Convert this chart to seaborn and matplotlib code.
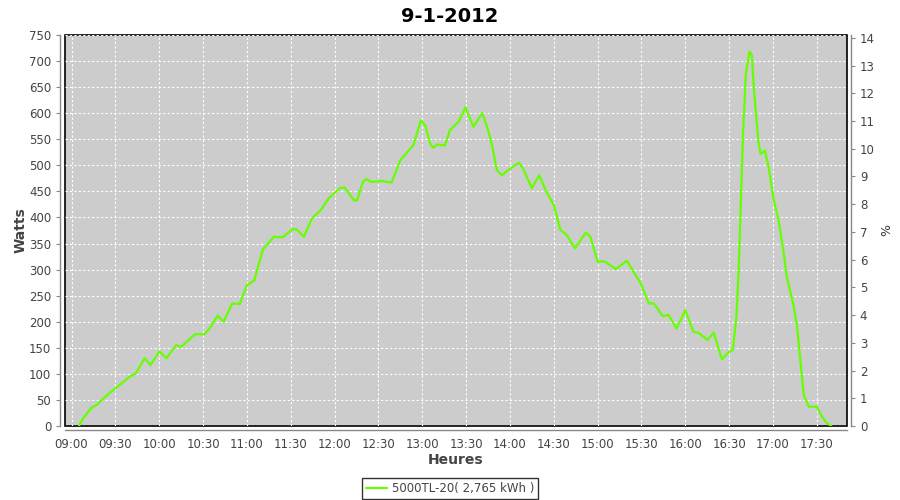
import pandas as pd
import matplotlib
matplotlib.use("Agg")
import matplotlib.pyplot as plt
import matplotlib.dates as mdates
import seaborn as sns

# Production of one day
TIMES = ["09:05:00", "09:08:00", "09:14:00", "09:17:00", "09:25:00", "09:33:00", "09:40:00",
         "09:44:00", "09:50:00", "09:54:00", "10:00:00", "10:05:00", "10:11:30", "10:15:00",
         "10:24:30", "10:31:00", "10:35:00", "10:40:00", "10:44:00", "10:50:00", "10:55:00",
         "11:00:00", "11:05:00", "11:08:00", "11:11:00", "11:18:30", "11:24:30", "11:31:30",
         "11:34:00", "11:39:00", "11:44:30", "11:50:30", "11:56:00", "12:04:00", "12:07:00",
         "12:13:30", "12:15:30", "12:19:30", "12:22:00", "12:25:00", "12:32:00", "12:39:00",
         "12:45:00", "12:54:00", "12:59:00", "13:02:00", "13:05:30", "13:07:30", "13:10:30",
         "13:15:30", "13:19:00", "13:25:00", "13:29:30", "13:35:00", "13:41:00", "13:44:00",
         "13:47:30", "13:51:00", "13:54:30", "13:59:00", "14:06:00", "14:09:00", "14:15:00",
         "14:20:00", "14:25:00", "14:30:00", "14:34:30", "14:39:00", "14:44:30", "14:52:00",
         "14:55:00", "14:57:30", "15:00:00", "15:04:30", "15:12:30", "15:20:00", "15:24:30",
         "15:29:30", "15:35:00", "15:38:30", "15:44:30", "15:48:30", "15:54:00", "16:00:00",
         "16:05:30", "16:09:30", "16:15:00", "16:19:30", "16:25:00", "16:29:30", "16:32:30",
         "16:35:00", "16:36:30", "16:37:00", "16:39:30", "16:41:30", "16:44:00", "16:45:30",
         "16:47:00", "16:50:00", "16:51:30", "16:54:30", "16:57:00", "17:00:30", "17:04:00",
         "17:07:00", "17:09:30", "17:14:00", "17:16:30", "17:18:30", "17:21:00", "17:24:30",
         "17:30:00", "17:33:30", "17:37:00", "17:40:00"]
WATTS = [0, 15, 36, 40, 61, 79, 95,
         101, 130, 117, 143, 130, 155, 152,
         176, 176, 189, 212, 200, 235, 234,
         270, 279, 309, 339, 363, 362, 378,
         377, 363, 398, 414, 437, 457, 457,
         432, 434, 469, 474, 468, 470, 467,
         510, 539, 586, 577, 541, 534, 540,
         538, 568, 584, 611, 574, 600, 577,
         542, 491, 481, 491, 505, 494, 456,
         481, 449, 424, 376, 366, 341, 371,
         363, 339, 315, 316, 301, 317, 296,
         274, 235, 235, 211, 213, 187, 222,
         181, 178, 165, 179, 128, 141, 146,
         210, 299, 339, 562, 677, 718, 712,
         645, 545, 522, 528, 497, 434, 392,
         338, 286, 232, 190, 133, 60, 37,
         37, 18, 5, 0]

DAY = "2012-01-09"
SERIES_LABEL = "5000TL-20( 2,765 kWh )"
TITLE = "9-1-2012"

df = pd.DataFrame({"time": pd.to_datetime([f"{DAY} {t}" for t in TIMES]), "watts": WATTS})

sns.set_style("white")
plt.rcParams['font.family'] = ['DejaVu Sans']

fig = plt.figure(figsize=(9, 5), dpi=100)
ax = fig.add_axes([0.0717, 0.148, 0.869, 0.782])
ax.set_facecolor("#cccccc")
ax.patch.set_edgecolor("black")
ax.patch.set_linewidth(1.2)

sns.lineplot(data=df, x="time", y="watts", ax=ax, color="#66ff00", linewidth=1.6,
             label=SERIES_LABEL, legend=False)

ax.set_xlim(pd.Timestamp(f"{DAY} 08:55:12"), pd.Timestamp(f"{DAY} 17:50:24"))
ax.set_ylim(0, 750)
ax.set_yticks(range(0, 751, 50))
ax.xaxis.set_major_locator(mdates.MinuteLocator(byminute=[0, 30]))
ax.xaxis.set_major_formatter(mdates.DateFormatter("%H:%M"))

ax.grid(True, color="white", linestyle=(0, (2, 2)), linewidth=0.8)
ax.set_axisbelow(True)

# right hand % axis (no series attached)
ax2 = ax.twinx()
ax2.set_ylim(0, 14.1)
ax2.set_yticks(range(0, 15))
ax2.set_ylabel("%", fontsize=9, color="#333333", labelpad=4)

for a in (ax, ax2):
    for side, sp in a.spines.items():
        sp.set_position(("outward", 3))
        sp.set_color("#888888")
        sp.set_linewidth(1.0)
    a.tick_params(colors="#888888", labelcolor="#444444", labelsize=8.5, length=3, width=0.8)
ax.spines["top"].set_visible(False)
ax.spines["right"].set_visible(False)
ax2.spines["top"].set_visible(False)
ax2.spines["left"].set_visible(False)
ax2.spines["bottom"].set_visible(False)
ax.tick_params(axis="x", pad=3)

ax.set_xlabel("Heures", fontsize=10, fontweight="bold", color="#444444", labelpad=1)
ax.set_ylabel("Watts", fontsize=10, fontweight="bold", color="#444444", labelpad=1)
fig.suptitle(TITLE, x=0.5, y=0.985, fontsize=14, fontweight="bold", color="black")

handles, labels = ax.get_legend_handles_labels()
leg = fig.legend(handles, labels, loc="lower center", bbox_to_anchor=(0.5, 0.0),
                 fontsize=8.5, frameon=True, fancybox=False, handlelength=1.8,
                 borderpad=0.35, handletextpad=0.4, borderaxespad=0.1)
leg.get_frame().set_edgecolor("black")
leg.get_frame().set_linewidth(1.0)
for t in leg.get_texts():
    t.set_color("#444444")

fig.savefig("out.png", dpi=100)
